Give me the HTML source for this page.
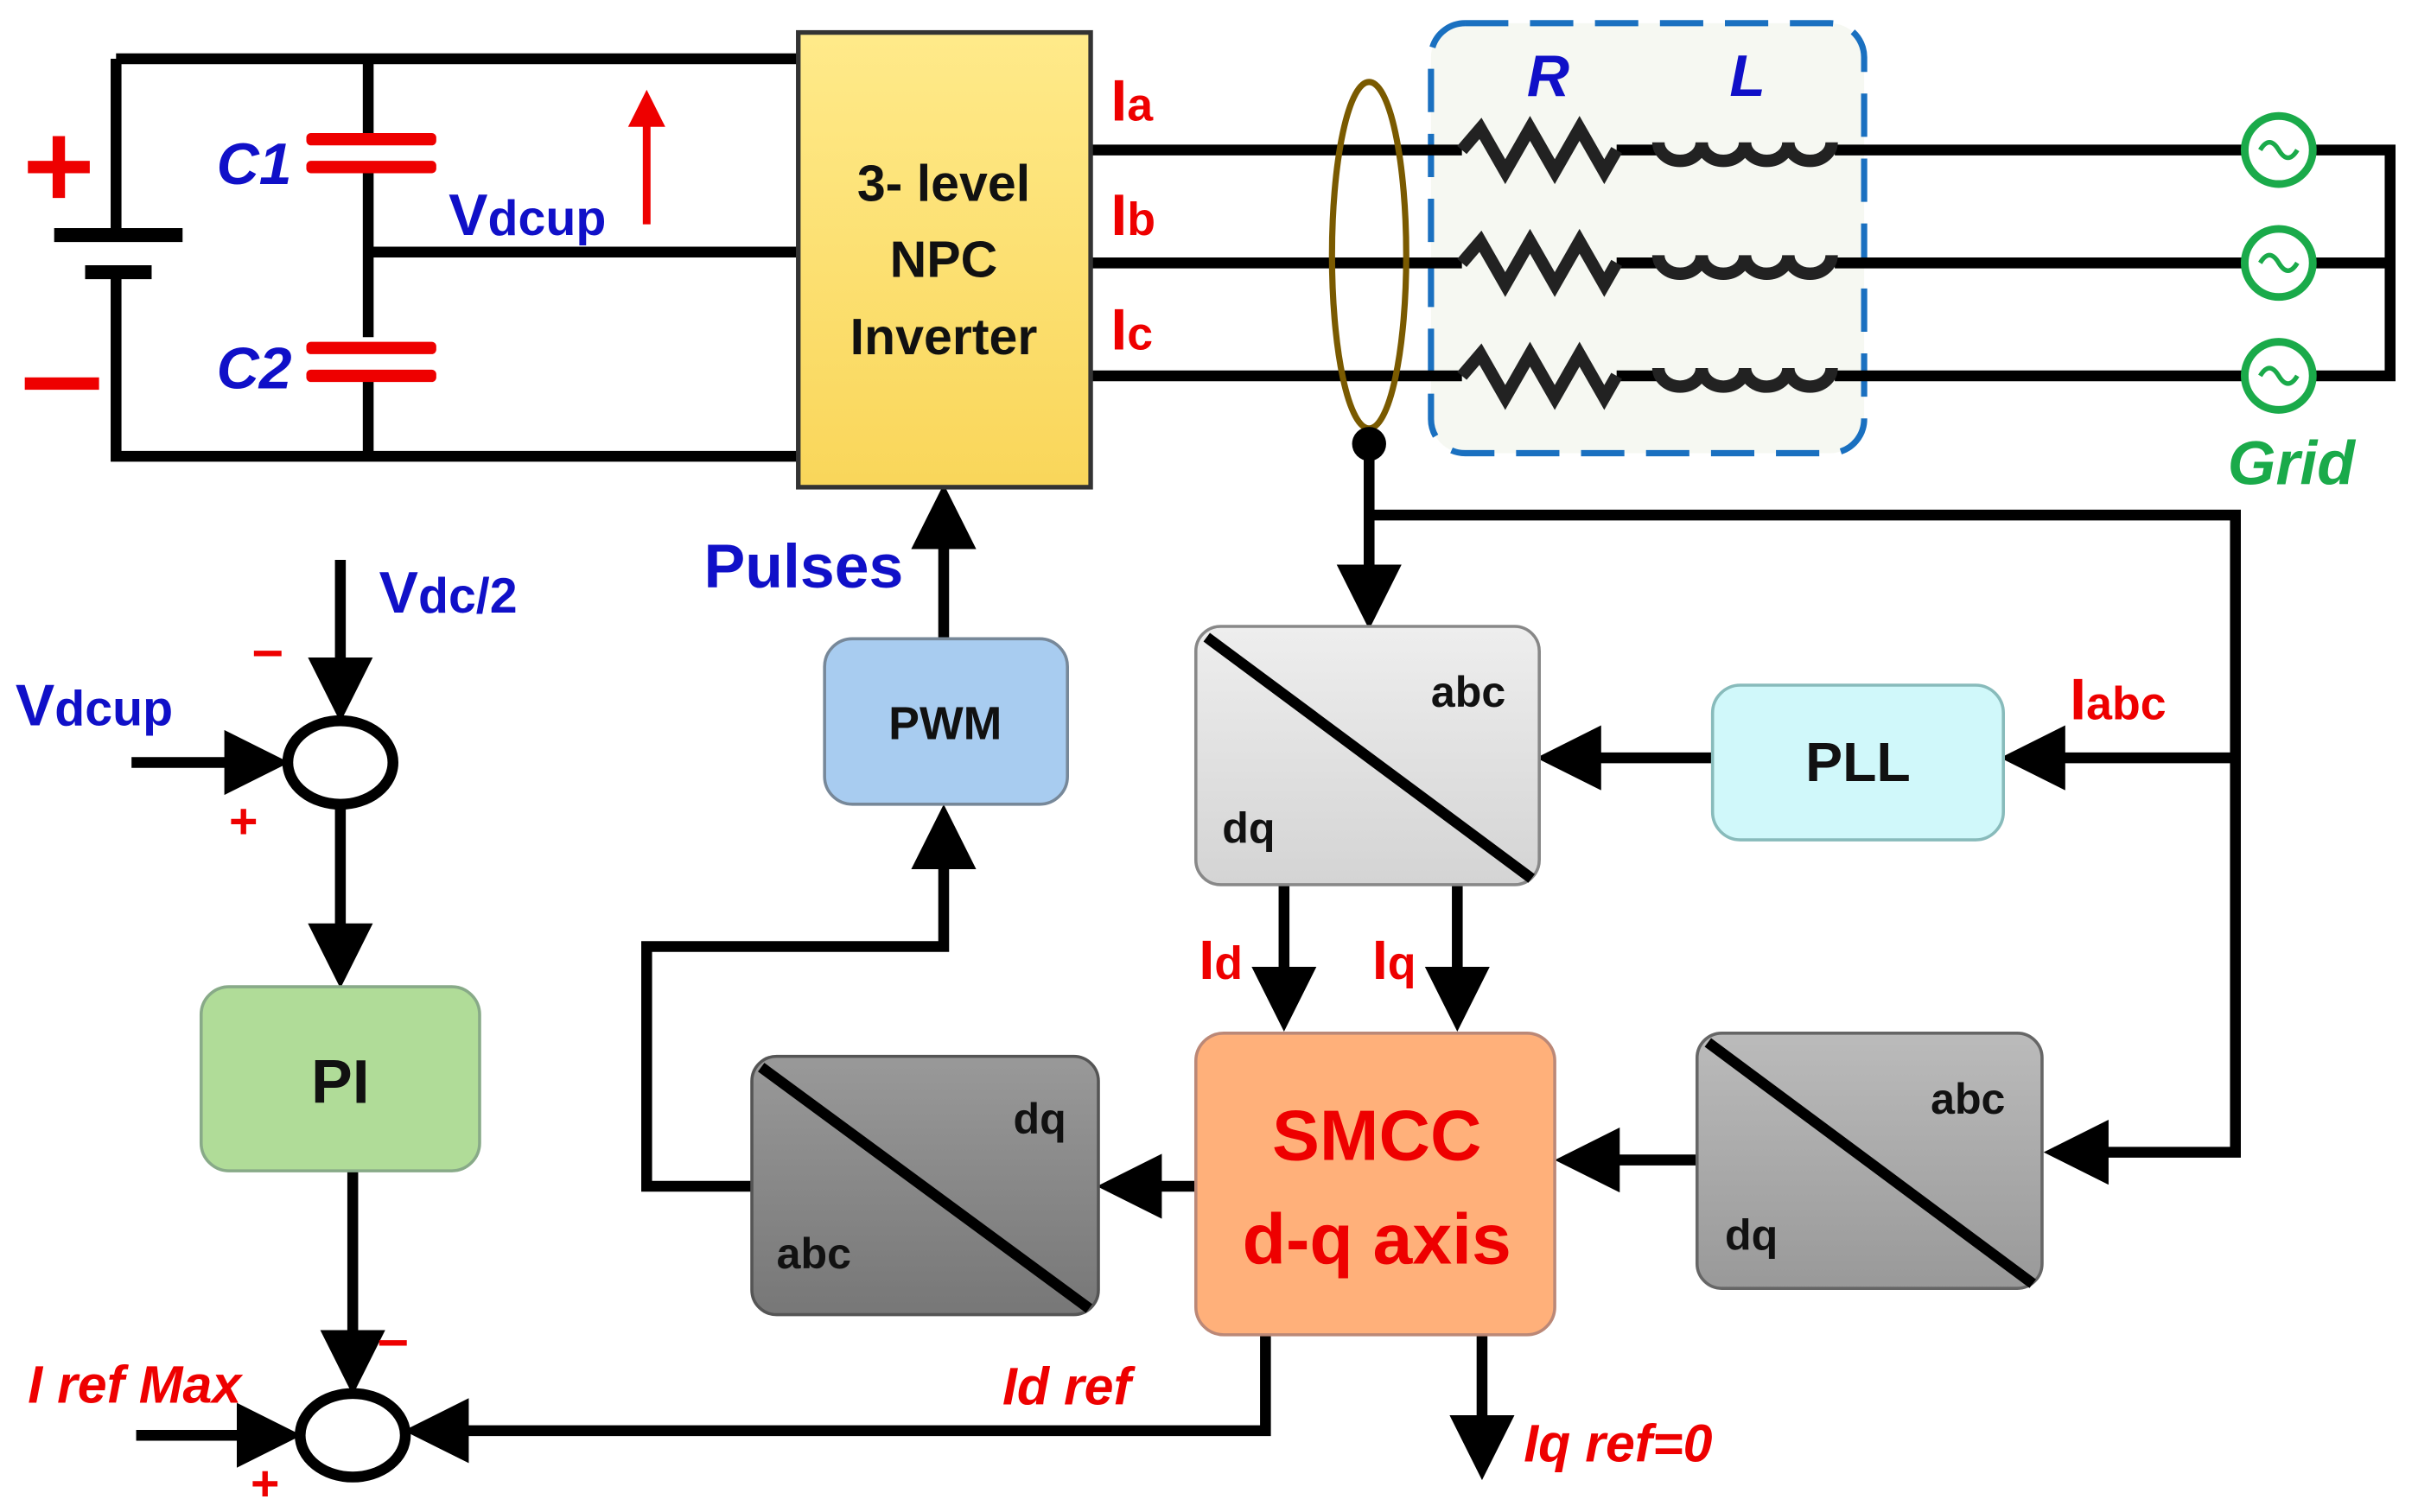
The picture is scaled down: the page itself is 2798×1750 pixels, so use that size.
<!DOCTYPE html>
<html><head><meta charset="utf-8"><style>html,body{margin:0;padding:0;background:#fff}svg{display:block}</style></head><body>
<svg width="2798" height="1750" viewBox="0 0 1563 977.6" xmlns="http://www.w3.org/2000/svg" font-family="Liberation Sans, sans-serif" font-weight="bold">
<defs>
<marker id="ar" markerWidth="6" markerHeight="6" refX="5" refY="3" orient="auto" markerUnits="strokeWidth"><path d="M0,0 L6,3 L0,6 z" fill="#000"/></marker>
<linearGradient id="gy" x1="0" y1="0" x2="0" y2="1"><stop offset="0" stop-color="#FFEA8A"/><stop offset="1" stop-color="#F9D65A"/></linearGradient>
<linearGradient id="g1" x1="0" y1="0" x2="0" y2="1"><stop offset="0" stop-color="#eee"/><stop offset="1" stop-color="#d4d4d4"/></linearGradient>
<linearGradient id="g2" x1="0" y1="0" x2="0" y2="1"><stop offset="0" stop-color="#999"/><stop offset="1" stop-color="#777"/></linearGradient>
<linearGradient id="g3" x1="0" y1="0" x2="0" y2="1"><stop offset="0" stop-color="#bbb"/><stop offset="1" stop-color="#999"/></linearGradient>
</defs>
<!-- dashed box -->
<rect x="925" y="15" width="280" height="278" rx="22" fill="#f6f8f2" stroke="#1a70c0" stroke-width="4" stroke-dasharray="28,14"/>
<g stroke="#000" stroke-width="7" fill="none">
<path d="M75,38 H515 M75,38 V152 M75,175 V295 H515 M238,38 V90 M238,112 V218 M238,242 V295 M238,163 H515"/>
<path d="M35,152 H118" stroke-width="9"/><path d="M55,176 H98" stroke-width="9"/>
<path d="M705,97 H945 M705,170 H945 M705,243 H945"/>
<path d="M1045,97 H1072 M1045,170 H1072 M1045,243 H1072 M1186,97 H1451 M1186,170 H1451 M1186,243 H1451"/>
<path d="M1495,97 H1545 V243 H1495 M1495,170 H1545"/>
<g stroke="#222" stroke-width="8">
<path d="M945,97 l12,-14 l16,28 l16,-28 l16,28 l16,-28 l16,28 l8,-14"/>
<path d="M945,170 l12,-14 l16,28 l16,-28 l16,28 l16,-28 l16,28 l8,-14"/>
<path d="M945,243 l12,-14 l16,28 l16,-28 l16,28 l16,-28 l16,28 l8,-14"/>
<path d="M1072,92 a14,12 0 0 0 28,0 a14,12 0 0 0 28,0 a14,12 0 0 0 28,0 a14,12 0 0 0 28,0"/>
<path d="M1072,165 a14,12 0 0 0 28,0 a14,12 0 0 0 28,0 a14,12 0 0 0 28,0 a14,12 0 0 0 28,0"/>
<path d="M1072,238 a14,12 0 0 0 28,0 a14,12 0 0 0 28,0 a14,12 0 0 0 28,0 a14,12 0 0 0 28,0"/>
</g>
<path d="M885,287 V400" marker-end="url(#ar)"/>
<path d="M885,333 H1445 V745 H1328" marker-end="url(#ar)"/>
<path d="M1445,490 H1300" marker-end="url(#ar)"/>
<path d="M1107,490 H1000" marker-end="url(#ar)"/>
<path d="M830,572 V660" marker-end="url(#ar)"/>
<path d="M942,572 V660" marker-end="url(#ar)"/>
<path d="M1097,750 H1012" marker-end="url(#ar)"/>
<path d="M773,767 H716" marker-end="url(#ar)"/>
<path d="M486,767 H418 V612 H610 V527" marker-end="url(#ar)"/>
<path d="M610,413 V320" marker-end="url(#ar)"/>
<path d="M220,362 V460" marker-end="url(#ar)"/>
<path d="M85,493 H180" marker-end="url(#ar)"/>
<path d="M220,521 V632" marker-end="url(#ar)"/>
<path d="M228,757 V895" marker-end="url(#ar)"/>
<path d="M88,928 H188" marker-end="url(#ar)"/>
<path d="M818,863 V925 H268" marker-end="url(#ar)"/>
<path d="M958,863 V950" marker-end="url(#ar)"/>
<ellipse cx="220" cy="493" rx="34" ry="27"/>
<ellipse cx="228" cy="928" rx="34" ry="27"/>
</g>
<g fill="#e00"><rect x="198" y="86" width="84" height="8" rx="3"/><rect x="198" y="104" width="84" height="8" rx="3"/>
<rect x="198" y="221" width="84" height="8" rx="3"/><rect x="198" y="239" width="84" height="8" rx="3"/>
<rect x="18" y="104" width="40" height="8"/><rect x="34" y="88" width="8" height="40"/><rect x="16" y="244" width="48" height="8"/></g>
<path d="M418,145 V75" stroke="#e00" stroke-width="5"/><path d="M406,82 L418,58 L430,82 z" fill="#e00"/>
<rect x="516" y="21" width="189" height="294" fill="url(#gy)" stroke="#333" stroke-width="3"/>
<g font-size="33" text-anchor="middle" fill="#111"><text x="610" y="130">3- level</text><text x="610" y="179">NPC</text><text x="610" y="229">Inverter</text></g>
<ellipse cx="885" cy="165" rx="24" ry="112" fill="none" stroke="#7a5a00" stroke-width="4"/>
<circle cx="885" cy="287" r="11" fill="#000"/>
<g fill="#fff" stroke="#1aaa4a" stroke-width="5"><circle cx="1473" cy="97" r="22"/><circle cx="1473" cy="170" r="22"/><circle cx="1473" cy="243" r="22"/></g>
<g fill="none" stroke="#1aaa4a" stroke-width="3"><path d="M1461,97 q6,-10 12,0 t12,0"/><path d="M1461,170 q6,-10 12,0 t12,0"/><path d="M1461,243 q6,-10 12,0 t12,0"/></g>
<rect x="773" y="405" width="222" height="167" rx="16" fill="url(#g1)" stroke="#888" stroke-width="2"/>
<path d="M780,412 L990,568" stroke="#000" stroke-width="7"/>
<rect x="1107" y="443" width="188" height="100" rx="18" fill="#d0f8fa" stroke="#8bb" stroke-width="2"/>
<rect x="533" y="413" width="157" height="107" rx="18" fill="#a8ccf0" stroke="#789" stroke-width="2"/>
<rect x="773" y="668" width="232" height="195" rx="18" fill="#FFB07A" stroke="#b87" stroke-width="2"/>
<rect x="1097" y="668" width="223" height="165" rx="16" fill="url(#g3)" stroke="#666" stroke-width="2"/>
<path d="M1104,674 L1314,830" stroke="#000" stroke-width="7"/>
<rect x="486" y="683" width="224" height="167" rx="16" fill="url(#g2)" stroke="#555" stroke-width="2"/>
<path d="M492,690 L704,846" stroke="#000" stroke-width="7"/>
<rect x="130" y="638" width="180" height="119" rx="18" fill="#b0dc98" stroke="#8a8" stroke-width="2"/>
<g fill="#111" font-size="28"><text x="925" y="457">abc</text><text x="790" y="545">dq</text><text x="1248" y="720">abc</text><text x="1115" y="808">dq</text><text x="655" y="733">dq</text><text x="502" y="820">abc</text></g>
<text x="1201" y="505" font-size="36" text-anchor="middle" fill="#111">PLL</text>
<text x="611" y="478" font-size="30" text-anchor="middle" fill="#111">PWM</text>
<text x="220" y="713" font-size="40" text-anchor="middle" fill="#111">PI</text>
<g fill="#e00" font-size="46" text-anchor="middle"><text x="890" y="750">SMCC</text><text x="890" y="817">d-q axis</text></g>
<g fill="#1010c8"><text x="140" y="119" font-size="38" font-style="italic">C1</text><text x="140" y="251" font-size="38" font-style="italic">C2</text>
<text x="290" y="152" font-size="38">V<tspan font-size="32">dcup</tspan></text>
<text x="455" y="380" font-size="40">Pulses</text>
<text x="245" y="396" font-size="38">V<tspan font-size="32">dc/2</tspan></text>
<text x="10" y="469" font-size="38">V<tspan font-size="32">dcup</tspan></text>
<text x="987" y="62" font-size="38" font-style="italic">R</text><text x="1118" y="62" font-size="38" font-style="italic">L</text></g>
<g fill="#e00"><text x="718" y="78" font-size="38">I<tspan font-size="30">a</tspan></text>
<text x="718" y="152" font-size="38">I<tspan font-size="30">b</tspan></text>
<text x="718" y="226" font-size="38">I<tspan font-size="30">c</tspan></text>
<text x="1338" y="465" font-size="38">I<tspan font-size="30">abc</tspan></text>
<text x="775" y="633" font-size="36">I<tspan font-size="30">d</tspan></text>
<text x="887" y="633" font-size="36">I<tspan font-size="30">q</tspan></text>
<text x="648" y="908" font-size="34" font-style="italic">Id ref</text>
<text x="985" y="945" font-size="34" font-style="italic">Iq ref=0</text>
<text x="18" y="907" font-size="34" font-style="italic">I ref Max</text>
<text x="163" y="432" font-size="36">–</text><text x="148" y="542" font-size="32">+</text>
<text x="244" y="878" font-size="36">–</text><text x="162" y="970" font-size="32">+</text></g>
<text x="1440" y="313" font-size="40" font-style="italic" fill="#1aaa4a">Grid</text>
</svg>
</body></html>
